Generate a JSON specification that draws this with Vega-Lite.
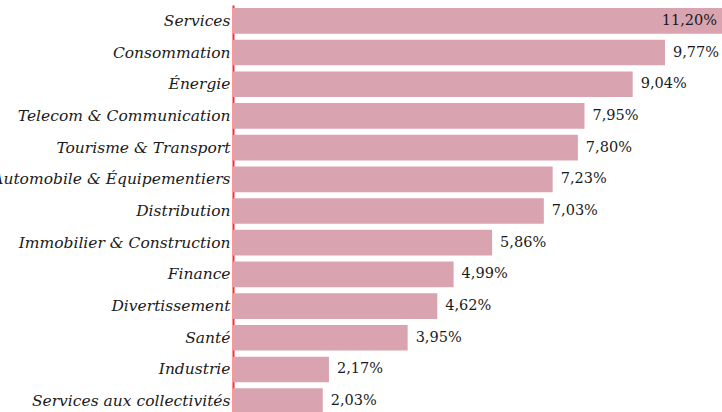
{
  "$schema": "https://vega.github.io/schema/vega-lite/v6.json",
  "autosize": {"type": "none"},
  "width": 489,
  "height": 412,
  "padding": {"left": 233, "top": 5, "right": 0, "bottom": 0},
  "background": "white",
  "config": {
    "view": {"stroke": null},
    "locale": {"number": {"decimal": ",", "thousands": " ", "grouping": [3], "currency": ["", " €"]}}
  },
  "data": {
    "values": [
      {"secteur": "Services", "part": 0.1120},
      {"secteur": "Consommation", "part": 0.0977},
      {"secteur": "Énergie", "part": 0.0904},
      {"secteur": "Telecom & Communication", "part": 0.0795},
      {"secteur": "Tourisme & Transport", "part": 0.0780},
      {"secteur": "Automobile & Équipementiers", "part": 0.0723},
      {"secteur": "Distribution", "part": 0.0703},
      {"secteur": "Immobilier & Construction", "part": 0.0586},
      {"secteur": "Finance", "part": 0.0499},
      {"secteur": "Divertissement", "part": 0.0462},
      {"secteur": "Santé", "part": 0.0395},
      {"secteur": "Industrie", "part": 0.0217},
      {"secteur": "Services aux collectivités", "part": 0.0203}
    ]
  },
  "encoding": {
    "y": {
      "field": "secteur",
      "type": "nominal",
      "sort": null,
      "scale": {"paddingInner": 0.19, "paddingOuter": 0.095},
      "axis": {
        "title": null,
        "ticks": false,
        "domainColor": "#ff2a2a",
        "domainWidth": 2,
        "labelFont": "DejaVu Serif",
        "labelFontStyle": "italic",
        "labelFontSize": 15.5,
        "labelColor": "#1a1a1a",
        "labelPadding": 3,
        "labelLimit": 0
      }
    },
    "x": {
      "field": "part",
      "type": "quantitative",
      "scale": {"domain": [0, 0.1106], "clamp": true, "nice": false, "zero": true},
      "axis": null
    }
  },
  "layer": [
    {"mark": {"type": "bar", "color": "#d9a3af", "clip": true}},
    {
      "transform": [{"filter": "datum.part < 0.105"}],
      "mark": {"type": "text", "align": "left", "baseline": "middle", "dx": 8, "font": "DejaVu Serif", "fontSize": 14.5, "color": "#1a1a1a"},
      "encoding": {"text": {"field": "part", "type": "quantitative", "format": ".2%"}}
    },
    {
      "transform": [{"filter": "datum.part >= 0.105"}],
      "mark": {"type": "text", "align": "right", "baseline": "middle", "dx": -5, "font": "DejaVu Serif", "fontSize": 14.5, "color": "#1a1a1a"},
      "encoding": {"text": {"field": "part", "type": "quantitative", "format": ".2%"}}
    }
  ]
}
